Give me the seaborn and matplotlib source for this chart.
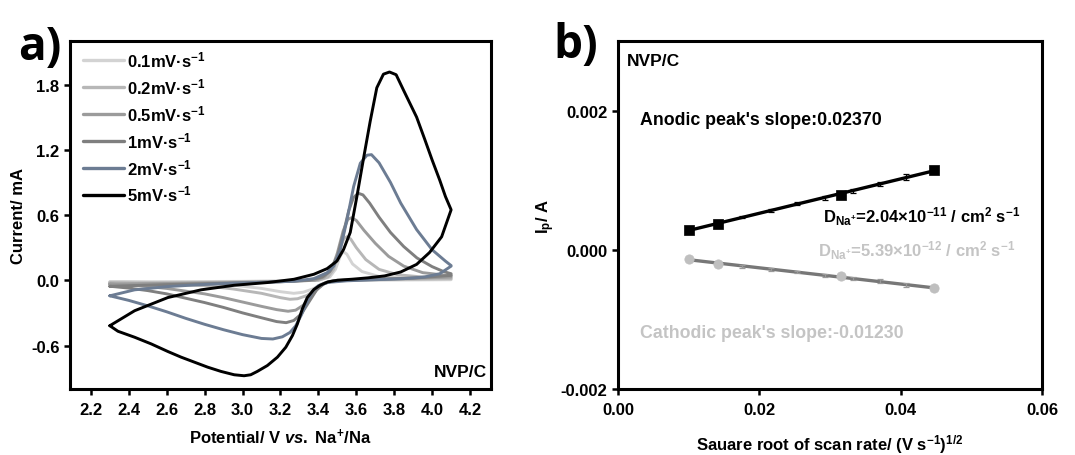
import matplotlib
matplotlib.use("Agg")
import matplotlib.pyplot as plt
import seaborn as sns
import numpy as np
import pandas as pd

# ---------------- data: panel a (CV curves, potential V, current mA) ----------------
rates = ["0.1mV·s$^{-1}$", "0.2mV·s$^{-1}$", "0.5mV·s$^{-1}$",
         "1mV·s$^{-1}$", "2mV·s$^{-1}$", "5mV·s$^{-1}$"]

v01 = [2.30, 3.00, 3.40, 3.46, 3.49, 3.515, 3.53, 3.55, 3.58, 3.63, 3.72, 3.90, 4.10,
       4.10, 3.60, 3.47, 3.42, 3.37, 3.32, 3.27, 3.20, 3.10, 2.95, 2.70, 2.30]
i01 = [-0.015, -0.010, 0.000, 0.030, 0.100, 0.220, 0.265, 0.240, 0.150, 0.080, 0.035, 0.015, 0.010,
       0.005, 0.000, -0.005, -0.030, -0.080, -0.110, -0.120, -0.105, -0.075, -0.045, -0.025, -0.015]

v02 = [2.30, 2.80, 3.20, 3.40, 3.45, 3.48, 3.51, 3.535, 3.55, 3.57, 3.60, 3.65, 3.72, 3.82, 3.95, 4.10,
       4.10, 3.70, 3.48, 3.43, 3.39, 3.34, 3.29, 3.25, 3.20, 3.10, 2.95, 2.80, 2.60, 2.30]
i02 = [-0.025, -0.020, -0.010, 0.000, 0.030, 0.100, 0.280, 0.385, 0.400, 0.380, 0.300, 0.190, 0.100, 0.050, 0.030, 0.020,
       0.015, 0.005, -0.005, -0.030, -0.080, -0.140, -0.170, -0.175, -0.160, -0.120, -0.080, -0.050, -0.035, -0.025]

v05 = [2.30, 2.70, 3.00, 3.25, 3.38, 3.43, 3.47, 3.50, 3.53, 3.555, 3.575, 3.60, 3.64, 3.70, 3.77, 3.85, 3.95, 4.10,
       4.10, 3.80, 3.50, 3.44, 3.40, 3.36, 3.32, 3.28, 3.24, 3.18, 3.10, 3.00, 2.90, 2.80, 2.60, 2.45, 2.30]
i05 = [-0.035, -0.028, -0.020, -0.010, 0.000, 0.030, 0.100, 0.250, 0.450, 0.560, 0.575, 0.550, 0.460, 0.340, 0.220, 0.130, 0.070, 0.040,
       0.030, 0.012, 0.000, -0.020, -0.070, -0.150, -0.230, -0.275, -0.285, -0.270, -0.240, -0.200, -0.160, -0.125, -0.075, -0.050, -0.035]

v1 = [2.30, 2.60, 2.90, 3.20, 3.35, 3.42, 3.46, 3.50, 3.53, 3.56, 3.585, 3.61, 3.635, 3.67, 3.72, 3.78, 3.85, 3.92, 4.00, 4.06, 4.10,
      4.10, 3.90, 3.60, 3.48, 3.43, 3.39, 3.35, 3.31, 3.27, 3.23, 3.18, 3.10, 3.00, 2.90, 2.80, 2.70, 2.60, 2.50, 2.40, 2.30]
i1 = [-0.055, -0.040, -0.028, -0.014, 0.000, 0.030, 0.080, 0.220, 0.420, 0.640, 0.760, 0.800, 0.785, 0.710, 0.580, 0.440, 0.310, 0.205, 0.125, 0.080, 0.060,
      0.045, 0.020, 0.005, -0.005, -0.030, -0.090, -0.200, -0.310, -0.370, -0.390, -0.380, -0.345, -0.300, -0.250, -0.205, -0.165, -0.125, -0.095, -0.072, -0.055]

v2 = [2.30, 2.431, 2.606, 2.781, 2.956, 3.131, 3.271, 3.376, 3.446, 3.481, 3.516, 3.551, 3.586, 3.621, 3.656, 3.68, 3.72,
      3.78, 3.834, 3.918, 4.00, 4.07, 4.10,
      4.10, 4.04, 3.96, 3.85, 3.70, 3.55, 3.45, 3.40, 3.37, 3.34, 3.31, 3.28, 3.25, 3.21, 3.16, 3.10, 3.00, 2.90, 2.80,
      2.70, 2.60, 2.50, 2.40, 2.30]
i2 = [-0.143, -0.088, -0.058, -0.040, -0.027, -0.018, -0.009, 0.015, 0.070, 0.131, 0.284, 0.558, 0.863, 1.076, 1.150, 1.155, 1.080,
      0.900, 0.710, 0.466, 0.280, 0.176, 0.135,
      0.130, 0.060, 0.030, 0.015, 0.005, -0.005, -0.020, -0.050, -0.100, -0.200, -0.320, -0.420, -0.480, -0.520, -0.540, -0.535, -0.500, -0.455, -0.405,
      -0.350, -0.290, -0.235, -0.185, -0.143]

v5 = [2.30, 2.431, 2.606, 2.781, 2.956, 3.131, 3.271, 3.376, 3.446, 3.498, 3.533, 3.568, 3.603, 3.638, 3.673, 3.708, 3.743,
      3.775, 3.81, 3.85, 3.918, 3.96, 4.00, 4.04, 4.07, 4.10,
      4.05, 3.986, 3.918, 3.834, 3.749, 3.66, 3.58, 3.50, 3.45, 3.41, 3.376, 3.341, 3.315, 3.289, 3.263, 3.228, 3.184,
      3.131, 3.078, 3.043, 3.008, 2.956, 2.886, 2.816, 2.746, 2.676, 2.606, 2.518, 2.431, 2.343, 2.30]
i5 = [-0.418, -0.280, -0.159, -0.088, -0.046, -0.021, 0.009, 0.055, 0.107, 0.177, 0.284, 0.440, 0.770, 1.120, 1.460, 1.770, 1.895,
      1.915, 1.890, 1.744, 1.500, 1.300, 1.105, 0.920, 0.770, 0.648,
      0.400, 0.255, 0.146, 0.076, 0.040, 0.022, 0.010, 0.000, -0.015, -0.045, -0.085, -0.160, -0.265, -0.402, -0.509, -0.616, -0.707,
      -0.784, -0.838, -0.869, -0.878, -0.869, -0.838, -0.799, -0.753, -0.707, -0.655, -0.585, -0.524, -0.469, -0.418]

cv_v = [v01, v02, v05, v1, v2, v5]
cv_i = [i01, i02, i05, i1, i2, i5]

# ---------------- data: panel b (peak current vs sqrt scan rate) ----------------
sqrt_rate = [0.0100, 0.0141, 0.0175, 0.0216, 0.0253, 0.0293, 0.0316, 0.0333, 0.0371, 0.0408, 0.0447]
anodic = [0.00029, 0.00037, 0.00047, 0.00056, 0.00066, 0.00075, 0.00079, 0.00085, 0.00095, 0.00105, 0.00114]
cathodic = [-0.00013, -0.00020, -0.00024, -0.00028, -0.00032, -0.00037, -0.00038, -0.00041, -0.00045, -0.00051, -0.00055]
anodic_err = [0.0, 0.0, 0.00002, 0.00002, 0.00002, 0.00003, 0.0, 0.00003, 0.00003, 0.00004, 0.0]
cathodic_err = [0.0, 0.0, 0.00002, 0.00002, 0.00002, 0.00002, 0.0, 0.00002, 0.00003, 0.00003, 0.0]
main_idx = [0, 1, 6, 10]

# ---------------- style ----------------
sns.set_theme(style="ticks")
plt.rcParams.update({
    "font.family": ["Liberation Sans", "DejaVu Sans"],
    "font.weight": "bold",
    "axes.labelweight": "bold",
    "text.color": "black",
    "axes.labelcolor": "black",
    "mathtext.fontset": "custom",
    "mathtext.rm": "Liberation Sans:bold",
    "mathtext.bf": "Liberation Sans:bold",
    "mathtext.it": "Liberation Sans:bold:italic",
    "mathtext.default": "rm",
    "axes.edgecolor": "black",
    "axes.linewidth": 2.2,
    "xtick.color": "black",
    "ytick.color": "black",
    "xtick.labelcolor": "black",
    "ytick.labelcolor": "black",
    "xtick.major.width": 1.8,
    "ytick.major.width": 1.8,
    "xtick.major.size": 4,
    "ytick.major.size": 4,
    "xtick.labelsize": 12,
    "ytick.labelsize": 12,
})

fig = plt.figure(figsize=(10.75, 4.56), dpi=100)
ax1 = fig.add_axes([0.0651, 0.1447, 0.3916, 0.7632])
ax2 = fig.add_axes([0.5749, 0.1447, 0.3944, 0.7632])

# ---------------- panel a ----------------
frames = []
for lab, vv, ii in zip(rates, cv_v, cv_i):
    frames.append(pd.DataFrame({"V": vv, "I": ii, "rate": lab}))
df = pd.concat(frames, ignore_index=True)
palette = dict(zip(rates, ["#d3d3d3", "#b7b7b7", "#9b9b9b", "#7f7f7f", "#6c7c93", "#000000"]))
sns.lineplot(data=df, x="V", y="I", hue="rate", hue_order=rates, palette=palette,
             sort=False, estimator=None, units="rate", lw=2.1, ax=ax1)
for line in ax1.get_lines():
    line.set_solid_joinstyle("round")
    line.set_solid_capstyle("round")
ax1.set_xlim(2.09, 4.31)
ax1.set_ylim(-1.0, 2.2)
xt = np.arange(2.2, 4.21, 0.2)
ax1.set_xticks(xt)
ax1.set_xticklabels([f"{t:.1f}" for t in xt])
ax1.set_yticks([-0.6, 0.0, 0.6, 1.2, 1.8])
ax1.set_yticklabels(["-0.6", "0.0", "0.6", "1.2", "1.8"])
ax1.tick_params(axis="x", pad=5)
ax1.set_xlabel("Potential/ V $\\it{vs.}$ Na$^{+}$/Na", fontsize=12, labelpad=7)
ax1.set_ylabel("Current/ mA", fontsize=12, labelpad=4)
leg = ax1.legend(loc="upper left", bbox_to_anchor=(0.015, 0.995), frameon=False,
                 fontsize=12, handlelength=2.45, handletextpad=0.18, labelspacing=0.42,
                 borderaxespad=0.0)
for h in leg.get_lines():
    h.set_linewidth(2.4)
ax1.text(0.99, 0.03, "NVP/C", transform=ax1.transAxes, ha="right", va="bottom",
         fontsize=12.5, fontweight="bold")
fig.text(40 / 1075, 1 - 47 / 456, "a)", fontsize=33, fontweight="bold", family="Open Sans",
         ha="center", va="center", color="black")

# ---------------- panel b ----------------
dfb = pd.DataFrame({"x": sqrt_rate, "an": anodic, "ca": cathodic})
sns.regplot(data=dfb, x="x", y="an", scatter=False, ci=None, truncate=True,
            line_kws={"color": "black", "lw": 2.4}, ax=ax2)
sns.regplot(data=dfb, x="x", y="ca", scatter=False, ci=None, truncate=True,
            line_kws={"color": "#777777", "lw": 2.4}, ax=ax2)
ax2.errorbar(sqrt_rate, anodic, yerr=anodic_err, fmt="none", ecolor="black",
             elinewidth=0.9, capsize=2.5, capthick=0.9)
ax2.errorbar(sqrt_rate, cathodic, yerr=cathodic_err, fmt="none", ecolor="#999999",
             elinewidth=0.9, capsize=2.5, capthick=0.9)
dmain = dfb.iloc[main_idx]
sns.scatterplot(data=dmain, x="x", y="an", marker="s", s=50, color="black",
                edgecolor="black", linewidth=0.5, ax=ax2, zorder=5)
sns.scatterplot(data=dmain, x="x", y="ca", marker="o", s=45, color="#bfbfbf",
                edgecolor="#bfbfbf", linewidth=0.5, ax=ax2, zorder=5)
ax2.set_xlim(0.0, 0.06)
ax2.set_ylim(-0.002, 0.003)
ax2.set_xticks([0.0, 0.02, 0.04, 0.06])
ax2.set_xticklabels(["0.00", "0.02", "0.04", "0.06"])
ax2.set_yticks([-0.002, 0.0, 0.002])
ax2.set_yticklabels(["-0.002", "0.000", "0.002"])
ax2.tick_params(axis="x", pad=5)
ax2.set_xlabel("Sauare root of scan rate/ (V s$^{-1}$)$^{1/2}$", fontsize=12, labelpad=11)
ax2.set_ylabel("I$_{p}$/ A", fontsize=12, labelpad=3)
ax2.text(0.022, 0.945, "NVP/C", transform=ax2.transAxes, ha="left", va="center",
         fontsize=12.5, fontweight="bold")
ax2.text(0.052, 0.774, "Anodic peak's slope:0.02370", transform=ax2.transAxes,
         ha="left", va="center", fontsize=12.8, fontweight="bold", color="black")
ax2.text(0.483, 0.497, "D$_{\\mathregular{Na^{+}}}$=2.04×10$^{-11}$ / cm$^{2}$ s$^{-1}$",
         transform=ax2.transAxes, ha="left", va="center", fontsize=12, color="black")
ax2.text(0.471, 0.401, "D$_{\\mathregular{Na^{+}}}$=5.39×10$^{-12}$ / cm$^{2}$ s$^{-1}$",
         transform=ax2.transAxes, ha="left", va="center", fontsize=12, color="#c4c4c4")
ax2.text(0.052, 0.163, "Cathodic peak's slope:-0.01230", transform=ax2.transAxes,
         ha="left", va="center", fontsize=12.8, fontweight="bold", color="#c4c4c4")
fig.text(576 / 1075, 1 - 46 / 456, "b)", fontsize=33, fontweight="bold", family="Open Sans",
         ha="center", va="center", color="black")

fig.savefig("out.png", dpi=100)
